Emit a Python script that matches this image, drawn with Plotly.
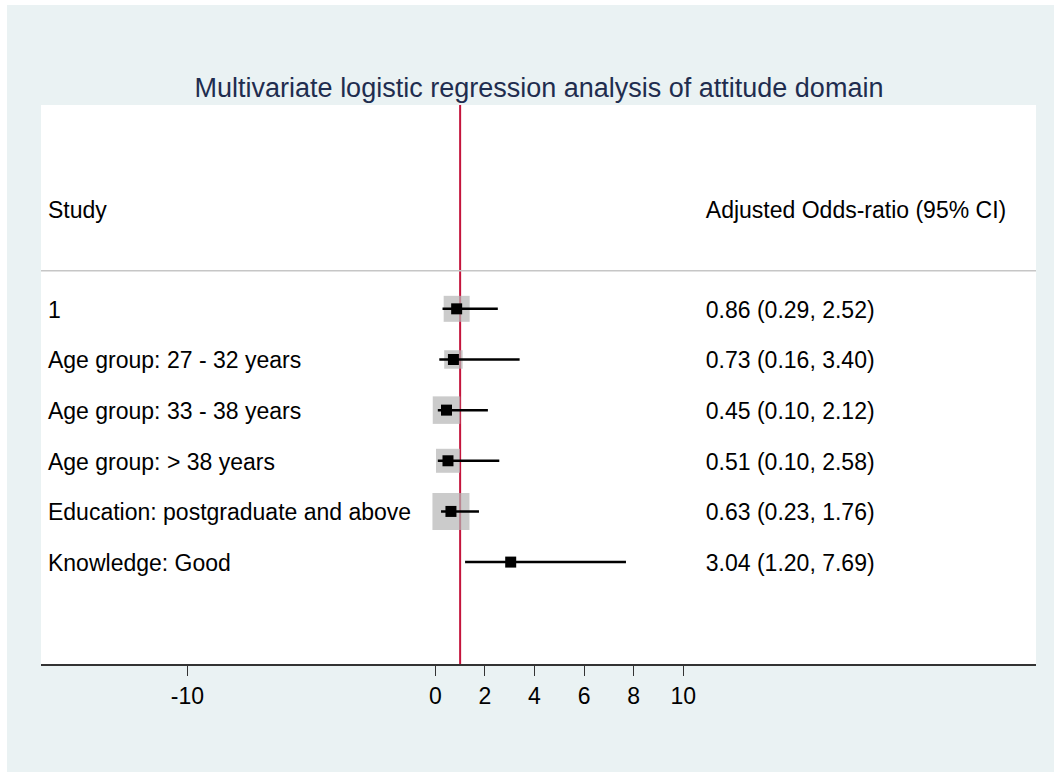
import plotly.graph_objects as go

# ---- data ----
labels = ["1", "Age group: 27 - 32 years", "Age group: 33 - 38 years",
          "Age group: > 38 years", "Education: postgraduate and above",
          "Knowledge: Good"]
odds_ratio = [0.86, 0.73, 0.45, 0.51, 0.63, 3.04]
ci_low = [0.29, 0.16, 0.10, 0.10, 0.23, 1.20]
ci_high = [2.52, 3.40, 2.12, 2.58, 1.76, 7.69]
weights = [26, 18.5, 27.5, 24, 37, 9]  # relative box sizes (study weights)
tick_vals = [-10, 0, 2, 4, 6, 8, 10]
tick_text = ["-10", "0", "2", "4", "6", "8", "10"]
header_left = "Study"
header_right = "Adjusted Odds-ratio (95% CI)"
title_text = "Multivariate logistic regression analysis of attitude domain"
null_value = 1

FONT = "Liberation Sans, Arial, Helvetica, sans-serif"
rows = list(range(1, len(labels) + 1))
ci_text = [f"{o:.2f} ({l:.2f}, {h:.2f})" for o, l, h in zip(odds_ratio, ci_low, ci_high)]

W, H = 1054, 772
ML, MR, MT, MB = 41, 17.5, 105, 107.5
PW, PH = W - ML - MR, H - MT - MB

X_RANGE = [-15.907, 24.23]
Y_RANGE = [8.012, -3.024]
X_LABEL = -15.625
X_CI = 10.91
TEXT_DY = 0.06
Y_HEADER = -0.97
Y_RULE = 0.25

fig = go.Figure()

# gray weight boxes
fig.add_trace(go.Scatter(
    x=odds_ratio, y=rows, mode="markers",
    marker=dict(symbol="square", size=weights, color="#B5B5B5", line=dict(width=0)),
    hoverinfo="skip", showlegend=False))

# CI lines
ci_x, ci_y = [], []
for l, h, r in zip(ci_low, ci_high, rows):
    ci_x += [l, h, None]
    ci_y += [r, r, None]
fig.add_trace(go.Scatter(x=ci_x, y=ci_y, mode="lines",
                         line=dict(color="black", width=2.5),
                         hoverinfo="skip", showlegend=False))

# point estimates
fig.add_trace(go.Scatter(
    x=odds_ratio, y=rows, mode="markers",
    marker=dict(symbol="square", size=11, color="black", line=dict(width=0)),
    hoverinfo="skip", showlegend=False))

# text columns
text_y = [Y_HEADER + TEXT_DY] + [r + TEXT_DY for r in rows]
fig.add_trace(go.Scatter(
    x=[X_LABEL] * len(text_y), y=text_y, mode="text",
    text=[header_left] + labels, textposition="middle right",
    textfont=dict(family=FONT, size=23, color="black"),
    hoverinfo="skip", showlegend=False))
fig.add_trace(go.Scatter(
    x=[X_CI] * len(text_y), y=text_y, mode="text",
    text=[header_right] + ci_text, textposition="middle right",
    textfont=dict(family=FONT, size=23, color="black"),
    hoverinfo="skip", showlegend=False))

shapes = [
    # white strips at top and left edge of the figure
    dict(type="rect", xref="paper", yref="paper",
         x0=-ML / PW - 0.01, x1=(7 - ML) / PW, y0=-MB / PH - 0.01, y1=1 + MT / PH + 0.01,
         fillcolor="white", line=dict(width=0), layer="below"),
    dict(type="rect", xref="paper", yref="paper",
         x0=-ML / PW - 0.01, x1=1 + MR / PW + 0.01, y0=1 + (MT - 5) / PH, y1=1 + MT / PH + 0.01,
         fillcolor="white", line=dict(width=0), layer="below"),
    # null line
    dict(type="line", xref="x", yref="y domain", x0=null_value, x1=null_value, y0=0, y1=1,
         line=dict(color="#C4143C", width=2), layer="below"),
    # header rule
    dict(type="line", xref="x domain", yref="y", x0=0, x1=1, y0=Y_RULE, y1=Y_RULE,
         line=dict(color="#C6C6C6", width=1.5), layer="below"),
]

fig.update_layout(
    width=W, height=H,
    margin=dict(l=ML, r=MR, t=MT, b=MB),
    paper_bgcolor="#EAF2F3", plot_bgcolor="white",
    font=dict(family=FONT, color="black"),
    title=dict(text=title_text, x=539 / W, xanchor="center", xref="container",
               y=1 - 88 / H, yanchor="middle", yref="container",
               font=dict(family=FONT, size=27, color="#1F2D4F")),
    shapes=shapes,
    showlegend=False,
)
fig.update_xaxes(range=X_RANGE, tickvals=tick_vals, ticktext=tick_text,
                 showgrid=False, zeroline=False, showline=True,
                 linecolor="#333333", linewidth=2, ticks="outside", ticklen=10,
                 tickwidth=1, tickcolor="#333333",
                 tickfont=dict(family=FONT, size=23, color="black"))
fig.update_yaxes(range=Y_RANGE, visible=False, showgrid=False, zeroline=False)

fig.write_html("out.html")
